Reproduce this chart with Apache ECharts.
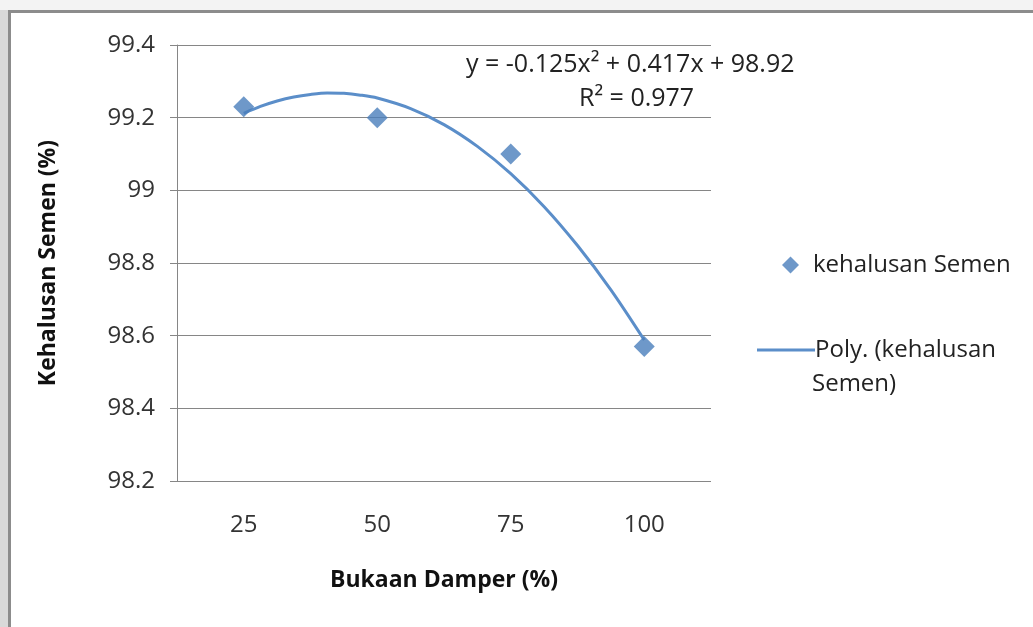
<!DOCTYPE html>
<html>
<head>
<meta charset="utf-8">
<script src="https://cdn.jsdelivr.net/npm/echarts@6/dist/echarts.min.js"></script>
<style>
	html, body { margin: 0; padding: 0; background: #fff; }
	#main { width: 1033px; height: 627px; }
</style>
</head>
<body>
<div id="main"></div>
<script>
	// data
	const categories = ['25', '50', '75', '100'];
	const fineness = [99.23, 99.2, 99.1, 98.57];
	// polynomial trend line, read along the x axis (category index 1..4)
	const trendX = [1, 1.125, 1.25, 1.375, 1.5, 1.625, 1.75, 1.875, 2, 2.25, 2.5, 2.75, 3, 3.25, 3.5, 3.75, 4];
	const trendY = [99.212, 99.231, 99.246, 99.257, 99.264, 99.268, 99.267, 99.262, 99.254, 99.225, 99.181, 99.121, 99.046, 98.955, 98.848, 98.726, 98.588];
	const yTicks = { min: 98.2, max: 99.4, step: 0.2 };

	const seriesName = 'kehalusan Semen';
	const trendName = 'Poly. (kehalusan Semen)';
	const font = 'Open Sans';
	const blue = '#4a7ebb';

	let chartDom = document.getElementById('main');
	let myChart = echarts.init(chartDom);

	let option = {
		backgroundColor: '#fff',
		animation: false,
		textStyle: { fontFamily: font },
		grid: { left: 177, top: 45, right: 322, bottom: 146, containLabel: false },
		legend: [
			{
				data: [seriesName],
				left: 777, top: 248,
				icon: 'diamond',
				itemWidth: 17, itemHeight: 17,
				textStyle: { fontSize: 24, color: '#222', fontFamily: font, padding: [0, 0, 0, 9] }
			},
			{
				data: [trendName],
				left: 752, top: 333,
				icon: 'rect',
				itemWidth: 58, itemHeight: 3,
				formatter: () => 'Poly. (kehalusan',
				textStyle: { fontSize: 24, color: '#222', fontFamily: font, padding: [0, 0, 0, -5] }
			}
		],
		graphic: [
			{ type: 'rect', shape: { x: 0, y: 0, width: 8, height: 627 }, style: { fill: '#d9d9d9' }, silent: true },
			{ type: 'rect', shape: { x: 0, y: 0, width: 1033, height: 10 }, style: { fill: '#f3f3f3' }, silent: true },
			{ type: 'line', shape: { x1: 9.5, y1: 11, x2: 9.5, y2: 627 }, style: { stroke: '#8c8c8c', lineWidth: 3 }, silent: true },
			{ type: 'line', shape: { x1: 8, y1: 11.5, x2: 1033, y2: 11.5 }, style: { stroke: '#8c8c8c', lineWidth: 3 }, silent: true },
			{
				type: 'text', left: 466, top: 52,
				style: { text: 'y = -0.125x² + 0.417x + 98.92', fontSize: 25, fontFamily: font, fill: '#222' }
			},
			{
				type: 'text', left: 579, top: 86,
				style: { text: 'R² = 0.977', fontSize: 25, fontFamily: font, fill: '#222' }
			},
			{
				type: 'text', left: 812, top: 372,
				style: { text: 'Semen)', fontSize: 24, fontFamily: font, fill: '#222' }
			}
		],
		xAxis: [
			{
				type: 'category',
				data: categories,
				boundaryGap: true,
				name: 'Bukaan Damper (%)',
				nameLocation: 'middle',
				nameGap: 88,
				nameTextStyle: { fontSize: 23, fontWeight: 'bold', color: '#111', fontFamily: font },
				axisLine: { show: false },
				axisTick: { show: false },
				axisLabel: { fontSize: 24, color: '#333', margin: 32, fontFamily: font },
				splitLine: { show: false }
			},
			{
				type: 'value',
				min: 0.5, max: 4.5,
				show: false
			}
		],
		yAxis: {
			type: 'value',
			min: yTicks.min, max: yTicks.max, interval: yTicks.step,
			name: 'Kehalusan Semen (%)',
			nameLocation: 'middle',
			nameGap: 117,
			nameTextStyle: { fontSize: 23, fontWeight: 'bold', color: '#111', fontFamily: font },
			axisLine: { show: true, lineStyle: { color: '#868686', width: 1 } },
			axisTick: { show: true, inside: false, length: 7, lineStyle: { color: '#868686' } },
			axisLabel: {
				fontSize: 24, color: '#333', margin: 22, fontFamily: font,
				formatter: v => String(Math.round(v * 10) / 10)
			},
			splitLine: { show: true, lineStyle: { color: '#868686', width: 1 } }
		},
		series: [
			{
				name: trendName,
				type: 'line',
				xAxisIndex: 1,
				data: trendX.map((x, i) => [x, trendY[i]]),
				smooth: 0.3,
				showSymbol: false,
				lineStyle: { color: '#5b8ec9', width: 3 },
				itemStyle: { color: '#5b8ec9' },
				z: 2
			},
			{
				name: seriesName,
				type: 'scatter',
				data: fineness,
				symbol: 'diamond',
				symbolSize: 21,
				itemStyle: { color: blue },
				z: 3
			}
		]
	};

	myChart.setOption(option);
</script>
</body>
</html>
